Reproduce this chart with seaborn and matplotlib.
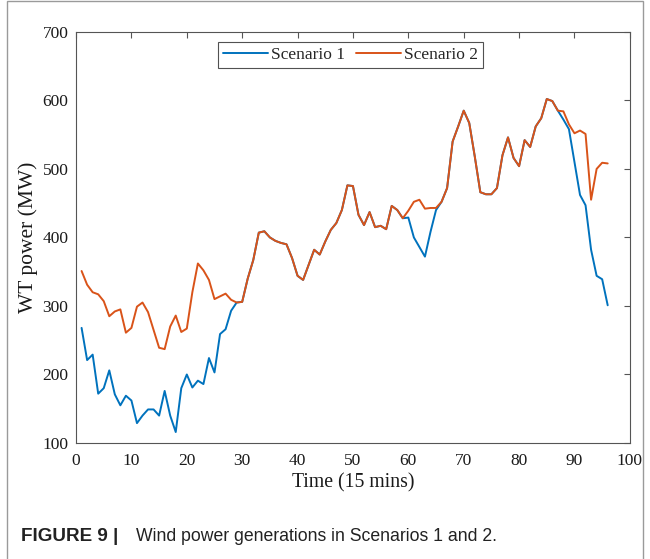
import numpy as np
import pandas as pd
import matplotlib
matplotlib.use("Agg")
import matplotlib.pyplot as plt
from matplotlib.patches import Rectangle
import seaborn as sns

# Time steps (15-minute intervals over one day)
time_steps = list(range(1, 97))

# Wind turbine output, Scenario 1 (MW)
scenario1 = [
    268, 221, 229, 172, 180, 206, 171, 155, 169, 162,
    129, 140, 149, 149, 140, 176, 140, 116, 180, 200,
    181, 191, 186, 224, 203, 259, 266, 293, 305, 306,
    340, 367, 407, 409, 400, 395, 392, 390, 370, 344,
    338, 360, 382, 375, 394, 411, 421, 440, 476, 475,
    433, 418, 437, 415, 417, 412, 446, 440, 428, 429,
    400, 386, 372, 408, 440, 452, 472, 540, 562, 585,
    567, 518, 466, 463, 463, 472, 520, 546, 516, 504,
    542, 532, 562, 574, 602, 599, 585, 572, 558, 510,
    462, 447, 382, 344, 339, 301,
]

# Wind turbine output, Scenario 2 (MW)
scenario2 = [
    351, 331, 320, 317, 307, 285, 292, 295, 261, 268,
    299, 305, 291, 265, 239, 237, 270, 286, 262, 267,
    320, 362, 352, 338, 310, 314, 318, 309, 305, 306,
    340, 367, 407, 409, 400, 395, 392, 390, 370, 344,
    338, 360, 382, 375, 394, 411, 421, 440, 476, 475,
    433, 418, 437, 415, 417, 412, 446, 440, 428, 439,
    452, 455, 442, 443, 443, 452, 472, 540, 562, 585,
    567, 518, 466, 463, 463, 472, 520, 546, 516, 504,
    542, 532, 562, 574, 602, 599, 585, 584, 565, 552,
    556, 551, 455, 500, 509, 508,
]

series_names = ["Scenario 1", "Scenario 2"]
series_colors = ["#0072BD", "#D95319"]

x_ticks = list(range(0, 101, 10))
y_ticks = list(range(100, 701, 100))

df = pd.DataFrame({
    "Time": time_steps * 2,
    "Power": scenario1 + scenario2,
    "Scenario": [series_names[0]] * len(scenario1) + [series_names[1]] * len(scenario2),
})

sns.set_theme(style="white")
plt.rcParams["font.family"] = ["Liberation Serif", "DejaVu Serif"]

fig = plt.figure(figsize=(6.5, 5.59), dpi=100)
ax = fig.add_axes([0.117, 0.2075, 0.852, 0.7355])

sns.lineplot(
    data=df, x="Time", y="Power", hue="Scenario",
    palette=dict(zip(series_names, series_colors)),
    linewidth=1.4, ax=ax, legend=True,
)

ax.set_xlim(0, 100)
ax.set_ylim(100, 700)
ax.set_xticks(x_ticks)
ax.set_yticks(y_ticks)
ax.tick_params(axis="both", which="both", direction="in", length=4,
               top=True, right=True, labelsize=12.5, colors="#555555",
               labelcolor="#1a1a1a", width=0.8)
ax.tick_params(axis="x", pad=7.5)
ax.tick_params(axis="y", pad=5.5)
for sp in ax.spines.values():
    sp.set_visible(True)
    sp.set_color("#555555")
    sp.set_linewidth(0.8)

ax.set_xlabel("Time (15 mins)", fontsize=14.2, color="#1a1a1a", labelpad=3)
ax.set_ylabel("WT power (MW)", fontsize=15.5, color="#1a1a1a", labelpad=3)

handles, labels = ax.get_legend_handles_labels()
leg = ax.legend(handles, labels, loc="upper center", ncol=2,
                bbox_to_anchor=(0.495, 0.985), frameon=True, fancybox=False,
                edgecolor="#262626", fontsize=12.5, handlelength=2.6,
                handletextpad=0.15, columnspacing=0.65, borderpad=0.3,
                borderaxespad=0.2)
leg.get_frame().set_linewidth(0.8)

# Outer frame and caption
fig.patches.append(Rectangle((0.011, -0.01), 0.978, 1.008, transform=fig.transFigure,
                             fill=False, edgecolor="#9a9a9a", linewidth=1.0))
fig.text(0.033, 0.033, "FIGURE 9 |", fontsize=13.6, fontweight="bold",
         family=["Liberation Sans"], color="#222222")
fig.text(0.209, 0.033, "Wind power generations in Scenarios 1 and 2.", fontsize=12.7,
         family=["Liberation Sans"], color="#222222")

fig.savefig("out.png", dpi=100, facecolor="white")
